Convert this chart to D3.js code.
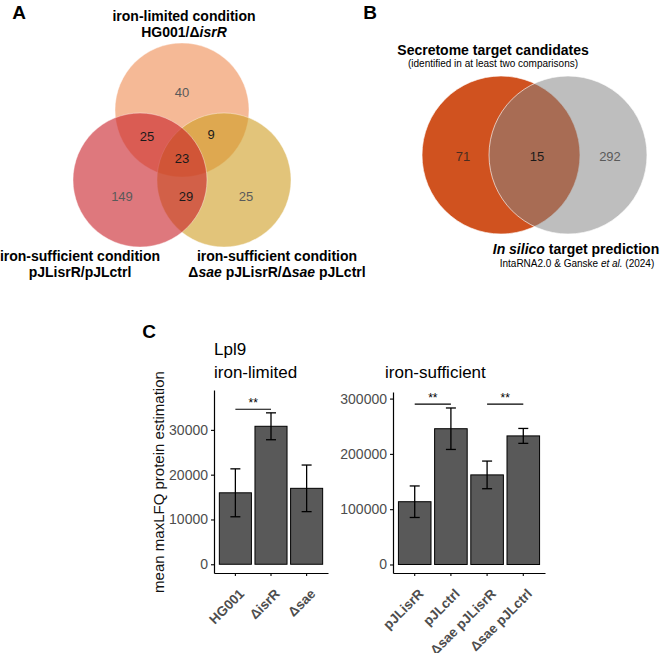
<!DOCTYPE html>
<html>
<head>
<meta charset="utf-8">
<script src="https://cdn.jsdelivr.net/npm/d3@7"></script>
<style>
  body { margin: 0; background: #fff; }
  svg { font-family: "Liberation Sans", Arial, sans-serif; }
</style>
</head>
<body>
<svg id="fig" width="664" height="653"></svg>
<script>
// ---- data ----
// venn A region counts
var vennARegions = ["top", "topLeft", "topRight", "all", "left", "leftRight", "right"]
var vennACounts = [40, 25, 9, 23, 149, 29, 25]
// venn B region counts
var vennBRegions = ["secretome", "both", "insilico"]
var vennBCounts = [71, 15, 292]

// bar panel C
var limitedCats = ["HG001", "\u0394isrR", "\u0394sae"]
var limitedMean = [15950, 30800, 16950]
var limitedSd = [5350, 3000, 5200]
var limitedTicks = [0, 10000, 20000, 30000]
var limitedSig = [[0, 1, 34600]]

var suffCats = ["pJLisrR", "pJLctrl", "\u0394sae pJLisrR", "\u0394sae pJLctrl"]
var suffMean = [113500, 245500, 162000, 232500]
var suffSd = [28500, 37500, 25000, 13500]
var suffTicks = [0, 100000, 200000, 300000]
var suffSig = [[0, 1, 290000], [2, 3, 290000]]

var svg = d3.select("#fig")

function label(x, y, txt, size, weight) {
  return svg.append("text")
    .attr("x", x).attr("y", y)
    .attr("font-size", size)
    .attr("font-weight", weight || "normal")
    .attr("text-anchor", "middle")
    .text(txt)
}
// text with italic pieces: parts = [[str, italic], ...]
function richLabel(x, y, parts, size, weight) {
  var t = svg.append("text")
    .attr("x", x).attr("y", y)
    .attr("font-size", size)
    .attr("font-weight", weight || "normal")
    .attr("text-anchor", "middle")
  parts.forEach(function(p) {
    t.append("tspan").attr("font-style", p[1] ? "italic" : "normal").text(p[0])
  })
  return t
}

// panel letters
label(19, 19, "A", 19, "bold")
label(370, 19, "B", 19, "bold")
label(149, 338, "C", 19, "bold")

// ---------------- Venn A ----------------
var r3 = 67
var cTop = [182, 110], cLeft = [140, 180], cRight = [224, 180]
var circlesA = [
  {c: cTop, fill: "rgb(238,138,80)"},
  {c: cRight, fill: "rgb(207,157,33)"},
  {c: cLeft, fill: "rgb(200,30,38)"}
]
svg.append("g").selectAll("circle")
  .data(circlesA)
  .enter().append("circle")
    .attr("cx", function(d) { return d.c[0] })
    .attr("cy", function(d) { return d.c[1] })
    .attr("r", r3)
    .attr("fill", function(d) { return d.fill })
    .attr("fill-opacity", 0.6)
    .attr("stroke", "#fff")
    .attr("stroke-opacity", 0.5)
    .attr("stroke-width", 0.8)

var posA = {
  top: [182, 92], topLeft: [147, 136], topRight: [211, 134], all: [182, 158],
  left: [122, 196], leftRight: [186, 196], right: [246, 196]
}
var darkA = {topLeft: 1, topRight: 1, all: 1, leftRight: 1}
svg.append("g").selectAll("text")
  .data(vennARegions)
  .enter().append("text")
    .attr("x", function(d) { return posA[d][0] })
    .attr("y", function(d) { return posA[d][1] })
    .attr("dy", "0.36em")
    .attr("text-anchor", "middle")
    .attr("font-size", 13)
    .attr("fill", function(d) { return darkA[d] ? "#1a1a1a" : "#5a5a5a" })
    .text(function(d, i) { return vennACounts[i] })

label(184, 21, "iron-limited condition", 14, "bold")
richLabel(184, 37, [["HG001/\u0394", false], ["isrR", true]], 14, "bold")
label(80, 261, "iron-sufficient condition", 14, "bold")
label(80, 277, "pJLisrR/pJLctrl", 14, "bold")
label(277, 261, "iron-sufficient condition", 14, "bold")
richLabel(277, 277, [["\u0394", false], ["sae", true], [" pJLisrR/\u0394", false], ["sae", true], [" pJLctrl", false]], 14, "bold")

// ---------------- Venn B ----------------
var r2 = 79
svg.append("circle")
  .attr("cx", 501).attr("cy", 155).attr("r", r2)
  .attr("fill", "#d0521f")
  .attr("stroke", "#fff").attr("stroke-opacity", 0.7).attr("stroke-width", 0.9)
svg.append("circle")
  .attr("cx", 568).attr("cy", 155).attr("r", r2)
  .attr("fill", "#848484").attr("fill-opacity", 0.53)
  .attr("stroke", "#fff").attr("stroke-opacity", 0.7).attr("stroke-width", 0.9)

var posB = {secretome: 463, both: 537, insilico: 610}
var colB = {secretome: "#4a2c20", both: "#1a1a1a", insilico: "#5a5a5a"}
svg.append("g").selectAll("text")
  .data(vennBRegions)
  .enter().append("text")
    .attr("x", function(d) { return posB[d] })
    .attr("y", 156)
    .attr("dy", "0.36em")
    .attr("text-anchor", "middle")
    .attr("font-size", 13)
    .attr("fill", function(d) { return colB[d] })
    .text(function(d, i) { return vennBCounts[i] })

label(493, 55, "Secretome target candidates", 14, "bold")
label(493, 67, "(identified in at least two comparisons)", 10)
richLabel(576, 254, [["In silico", true], [" target prediction", false]], 14, "bold")
richLabel(577, 267, [["IntaRNA2.0 & Ganske ", false], ["et al.", true], [" (2024)", false]], 10)

// ---------------- Panel C bars ----------------
label(214, 355, "Lpl9", 17).attr("text-anchor", "start")
label(214, 378, "iron-limited", 17).attr("text-anchor", "start")
label(385, 378, "iron-sufficient", 17).attr("text-anchor", "start")

svg.append("text")
  .attr("transform", "translate(164,482) rotate(-90)")
  .attr("text-anchor", "middle")
  .attr("font-size", 15)
  .attr("fill", "#111")
  .text("mean maxLFQ protein estimation")

function barPanel(cats, means, sds, ticks, sig, x0, x1, yTop, yDomain) {
  var yBottom = 573
  var x = d3.scaleBand()
    .domain(cats)
    .range([x0, x1])
    .paddingInner(0.1)
    .paddingOuter(0.15)
  var y = d3.scaleLinear()
    .domain(yDomain)
    .range([yBottom, yTop])

  var g = svg.append("g")
  var data = cats.map(function(c, i) { return {c: c, m: means[i], s: sds[i]} })

  g.selectAll("rect")
    .data(data)
    .enter().append("rect")
      .attr("x", function(d) { return x(d.c) })
      .attr("y", function(d) { return y(d.m) })
      .attr("width", x.bandwidth())
      .attr("height", function(d) { return y(0) - y(d.m) })
      .attr("fill", "#595959")
      .attr("stroke", "#000")
      .attr("stroke-width", 1)

  var cw = 5
  var eb = g.selectAll(".eb")
    .data(data)
    .enter().append("g")
  eb.append("line")
    .attr("x1", function(d) { return x(d.c) + x.bandwidth() / 2 })
    .attr("x2", function(d) { return x(d.c) + x.bandwidth() / 2 })
    .attr("y1", function(d) { return y(d.m - d.s) })
    .attr("y2", function(d) { return y(d.m + d.s) })
  eb.append("line")
    .attr("x1", function(d) { return x(d.c) + x.bandwidth() / 2 - cw })
    .attr("x2", function(d) { return x(d.c) + x.bandwidth() / 2 + cw })
    .attr("y1", function(d) { return y(d.m + d.s) })
    .attr("y2", function(d) { return y(d.m + d.s) })
  eb.append("line")
    .attr("x1", function(d) { return x(d.c) + x.bandwidth() / 2 - cw })
    .attr("x2", function(d) { return x(d.c) + x.bandwidth() / 2 + cw })
    .attr("y1", function(d) { return y(d.m - d.s) })
    .attr("y2", function(d) { return y(d.m - d.s) })
  eb.selectAll("line").attr("stroke", "#000").attr("stroke-width", 1.3)

  // significance brackets
  sig.forEach(function(s) {
    var xa = x(cats[s[0]]) + x.bandwidth() / 2
    var xb = x(cats[s[1]]) + x.bandwidth() / 2
    g.append("line")
      .attr("x1", xa).attr("x2", xb)
      .attr("y1", y(s[2])).attr("y2", y(s[2]))
      .attr("stroke", "#000").attr("stroke-width", 1.1)
    g.append("text")
      .attr("x", (xa + xb) / 2).attr("y", y(s[2]) - 2)
      .attr("text-anchor", "middle")
      .attr("font-size", 12)
      .attr("fill", "#000")
      .text("**")
  })

  // y axis
  var ya = g.append("g")
    .attr("transform", "translate(" + x0 + ",0)")
    .call(d3.axisLeft(y).tickValues(ticks).tickSize(3).tickSizeOuter(0).tickPadding(3).tickFormat(d3.format("d")))
  ya.select(".domain").attr("stroke-width", 1.2)
  ya.selectAll(".tick line").attr("stroke-width", 1.1)
  ya.selectAll("text").attr("font-size", 14).attr("fill", "#4d4d4d")
    .attr("font-family", "Liberation Sans, Arial, sans-serif")

  // x axis
  var xa = g.append("g")
    .attr("transform", "translate(0," + yBottom + ")")
    .call(d3.axisBottom(x).tickSize(3).tickSizeOuter(0).tickFormat(""))
  xa.select(".domain").attr("stroke-width", 1.2)
  xa.selectAll(".tick line").attr("stroke-width", 1.1)

  g.selectAll(".xlab")
    .data(cats)
    .enter().append("text")
      .attr("transform", function(d) {
        return "translate(" + (x(d) + x.bandwidth() / 2 + 3) + "," + (yBottom + 15) + ") rotate(-45)"
      })
      .attr("text-anchor", "end")
      .attr("dy", "0.7em")
      .attr("font-size", 13.5)
      .attr("font-weight", "bold")
      .attr("fill", "#4d4d4d")
      .text(function(d) { return d })
}

barPanel(limitedCats, limitedMean, limitedSd, limitedTicks, limitedSig, 214, 328, 390, [-1950, 38900])
barPanel(suffCats, suffMean, suffSd, suffTicks, suffSig, 393, 545, 392, [-15400, 311900])
</script>
</body>
</html>
